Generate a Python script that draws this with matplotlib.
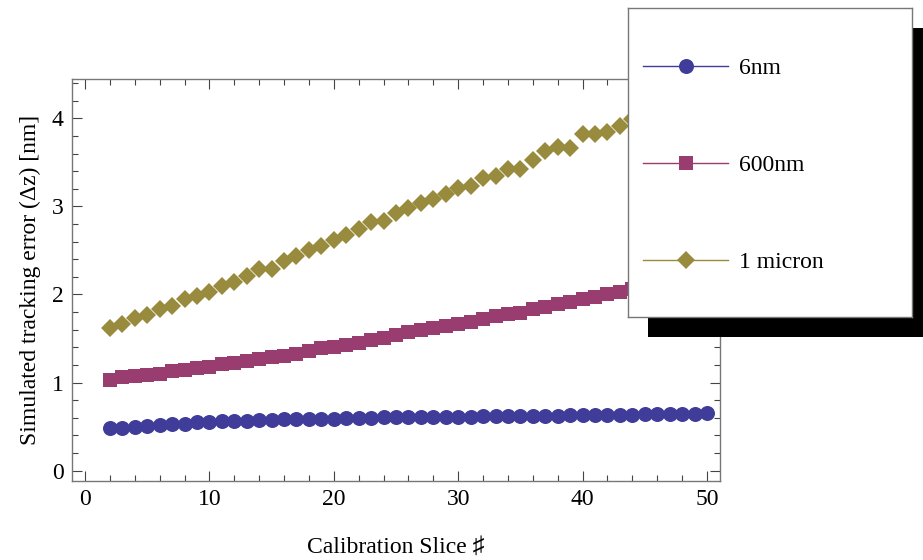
import numpy as np
import matplotlib
matplotlib.use('Agg')
import matplotlib.pyplot as plt
from matplotlib.lines import Line2D
from matplotlib.patches import Rectangle
from matplotlib.ticker import MultipleLocator

plt.rcParams['font.family'] = ['Liberation Serif', 'DejaVu Serif']

# calibration slices 2..50
slices = list(range(2, 51))

err_6nm = [0.48, 0.49, 0.50, 0.51, 0.52, 0.53, 0.535, 0.55, 0.55, 0.56,
           0.56, 0.56, 0.575, 0.575, 0.585, 0.585, 0.59, 0.59, 0.59, 0.595,
           0.60, 0.60, 0.605, 0.605, 0.61, 0.61, 0.61, 0.615, 0.615, 0.615,
           0.62, 0.62, 0.62, 0.625, 0.625, 0.625, 0.625, 0.63, 0.63, 0.63,
           0.63, 0.635, 0.635, 0.64, 0.645, 0.64, 0.645, 0.645, 0.65]

err_600nm = [1.03, 1.06, 1.07, 1.09, 1.10, 1.13, 1.145, 1.165, 1.18, 1.21,
             1.22, 1.25, 1.27, 1.29, 1.30, 1.33, 1.36, 1.39, 1.40, 1.43,
             1.455, 1.485, 1.51, 1.54, 1.57, 1.595, 1.625, 1.645, 1.67, 1.69,
             1.72, 1.76, 1.78, 1.795, 1.83, 1.86, 1.89, 1.92, 1.95, 1.97,
             2.00, 2.03, 2.06, 2.09, 2.12, 2.16, 2.19, 2.22, 2.26]

err_1um = [1.625, 1.67, 1.73, 1.765, 1.84, 1.87, 1.95, 1.98, 2.03, 2.10,
           2.14, 2.21, 2.29, 2.29, 2.38, 2.44, 2.50, 2.55, 2.62, 2.68,
           2.74, 2.82, 2.83, 2.92, 2.98, 3.04, 3.08, 3.14, 3.21, 3.23,
           3.32, 3.34, 3.43, 3.43, 3.53, 3.63, 3.67, 3.66, 3.82, 3.82,
           3.85, 3.91, 3.99, 4.05, 4.10, 4.16, 4.22, 4.28, 4.34]

labels = ['6nm', '600nm', '1 micron']
colors = ['#3F3D99', '#993D71', '#998B3D']
markers = ['o', 's', 'D']
msizes = [10.8, 9.6, 8.7]

FS = 17
W, H = 923, 560
fig = plt.figure(figsize=(W / 100, H / 100), dpi=100)

# main axes: frame 72..720 px wide, 79..481 px tall
ax = fig.add_axes([72 / W, 1 - 481 / H, 648 / W, 402 / H], zorder=0)

handles = []
for ys, c, m, ms, lab in zip([err_6nm, err_600nm, err_1um], colors, markers, msizes, labels):
    ax.plot(slices, ys, linestyle='none', marker=m, markersize=ms,
            color=c, markeredgewidth=0, clip_on=False)
    handles.append(Line2D([], [], color=c, lw=1.0, marker=m, markersize=ms,
                          markeredgewidth=0, label=lab))

ax.set_xlim(-1.05, 51.05)
ax.set_ylim(-0.117, 4.446)
ax.xaxis.set_major_locator(MultipleLocator(10))
ax.xaxis.set_minor_locator(MultipleLocator(2))
ax.yaxis.set_major_locator(MultipleLocator(1))
ax.yaxis.set_minor_locator(MultipleLocator(0.2))

for s in ax.spines.values():
    s.set_color('#777777')
    s.set_linewidth(1.0)
ax.tick_params(which='both', direction='in', top=True, right=True,
               color='#444444', labelsize=FS, width=0.8)
ax.tick_params(which='major', length=7)
ax.tick_params(which='minor', length=4)
ax.tick_params(axis='x', pad=6)
ax.tick_params(axis='y', pad=6)

ax.set_xlabel('Calibration Slice \u266F', fontsize=FS, labelpad=19)
ax.set_ylabel('Simulated tracking error (\u0394z) [nm]', fontsize=FS, labelpad=8)

# legend box with a hard black shadow
lx0, ly0, lx1, ly1 = 628, 8, 912, 317
off = 20
shadow = Rectangle(((lx0 + off) / W, 1 - (ly1 + off) / H), (lx1 - lx0) / W, (ly1 - ly0) / H,
                   transform=fig.transFigure, facecolor='black', edgecolor='none', zorder=1)
fig.patches.append(shadow)

lax = fig.add_axes([lx0 / W, 1 - ly1 / H, (lx1 - lx0) / W, (ly1 - ly0) / H], zorder=2)
lax.set_xticks([])
lax.set_yticks([])
for s in lax.spines.values():
    s.set_color('#777777')
    s.set_linewidth(1.0)
lax.legend(handles=handles, loc='center left', bbox_to_anchor=(0, 0.49),
           frameon=False, fontsize=FS, borderaxespad=0, borderpad=0.64,
           handlelength=3.6, handletextpad=0.47, labelspacing=3.2)

fig.savefig('out.png', dpi=100)
